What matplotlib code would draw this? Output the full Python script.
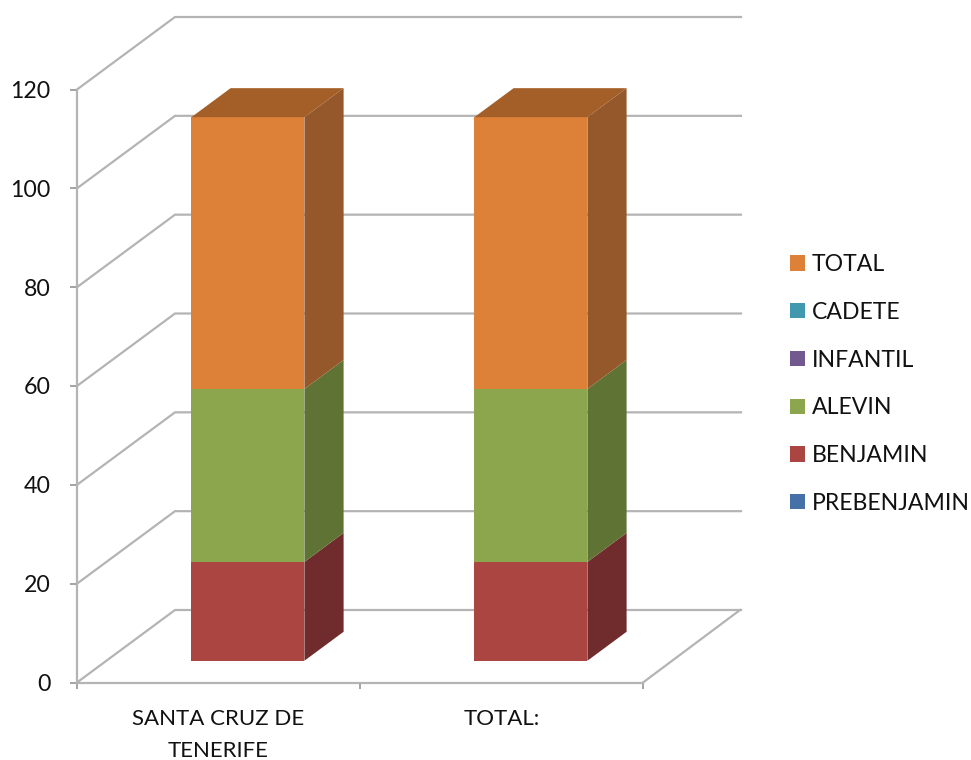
import numpy as np
import matplotlib
matplotlib.use("Agg")
import matplotlib.pyplot as plt
from matplotlib.patches import Patch

plt.rcParams['font.family'] = ['Lato', 'DejaVu Sans']

categories = ["SANTA CRUZ DE\nTENERIFE", "TOTAL:"]
series_names = ["PREBENJAMIN", "BENJAMIN", "ALEVIN", "INFANTIL", "CADETE", "TOTAL"]
prebenjamin = [0, 0]
benjamin = [20, 20]
alevin = [35, 35]
infantil = [0, 0]
cadete = [0, 0]
total = [55, 55]
series_values = [prebenjamin, benjamin, alevin, infantil, cadete, total]
y_ticks = [0, 20, 40, 60, 80, 100, 120]

front_colors = ["#4571A8", "#AB4541", "#8CA64E", "#71588F", "#4198AF", "#DD8138"]
side_colors = ["#35557E", "#702C2C", "#5F7335", "#54426B", "#2F7183", "#95582A"]
top_color = "#A45F28"
grid_color = "#B4B4B4"
W, H = 971, 760

fig = plt.figure(figsize=(W / 100, H / 100), dpi=100, facecolor="white")
L, R, B, T = 77, 643, 682.5, 89.5
ax = fig.add_axes([L / W, 1 - B / H, (R - L) / W, (B - T) / H])
ax.set_xlim(0, 2)
ax.set_ylim(0, 120)
px_x = 2 / (R - L)
px_y = 120 / (B - T)
DX = 98 * px_x
DY = 72.5 * px_y

# walls and floor
for v in y_ticks:
    ax.plot([0, DX, 2 + DX], [v, v + DY, v + DY], color=grid_color, lw=1.6,
            clip_on=False, zorder=1, solid_joinstyle="miter")
ax.plot([2, 2 + DX * 0.99], [0, DY], color=grid_color, lw=1.6, clip_on=False, zorder=1)

# bars
width = 113 * px_x
d0, d1 = 0.30, 0.70
centers = np.arange(len(categories)) + 0.5 + d0 * DX
bottoms = np.full(len(categories), d0 * DY)
dx = (d1 - d0) * DX
dy = (d1 - d0) * DY
for vals, fc, sc in zip(series_values, front_colors, side_colors):
    vals = np.array(vals, dtype=float)
    ax.bar(centers, vals, width=width, bottom=bottoms, color=fc, lw=0, clip_on=False, zorder=3)
    for c, b, v in zip(centers, bottoms, vals):
        if v > 0:
            xr = c + width / 2
            ax.fill([xr, xr + dx, xr + dx, xr], [b, b + dy, b + v + dy, b + v],
                    color=sc, lw=0, clip_on=False, zorder=3)
    bottoms = bottoms + vals
for c, b in zip(centers, bottoms):
    xl, xr = c - width / 2, c + width / 2
    ax.fill([xl, xr, xr + dx, xl + dx], [b, b, b + dy, b + dy], color=top_color, lw=0,
            clip_on=False, zorder=4)

# axes
for s in ("top", "right"):
    ax.spines[s].set_visible(False)
for s in ("left", "bottom"):
    ax.spines[s].set_color(grid_color)
    ax.spines[s].set_linewidth(1.6)
ax.patch.set_alpha(0)
ax.set_yticks(y_ticks)
ax.set_xticks(range(len(categories) + 1))
ax.set_xticklabels([])
ax.set_xticks(np.arange(len(categories)) + 0.5, categories, minor=True)
ax.tick_params(axis="y", length=5.2, width=1.1, color="#8A8A8A", labelsize=16.7, pad=13.8, labelcolor="#111111")
ax.tick_params(axis="x", which="major", length=4, width=1.1, color="#8A8A8A")
ax.tick_params(axis="x", which="minor", length=0, labelsize=16, pad=19, labelcolor="#111111")
for t in ax.get_xminorticklabels():
    t.set_linespacing(1.77)

# legend
handles = [Patch(facecolor=c, edgecolor="none", label=n)
           for n, c in zip(series_names, front_colors)][::-1]
fig.legend(handles=handles, loc="upper left", bbox_to_anchor=(769.3 / W, 1 - 233.4 / H),
           frameon=False, fontsize=16.6, labelspacing=1.16, handlelength=0.65, handleheight=0.65,
           handletextpad=0.3, labelcolor="#111111", borderpad=0.4)

fig.savefig("out.png", dpi=100, facecolor="white")
